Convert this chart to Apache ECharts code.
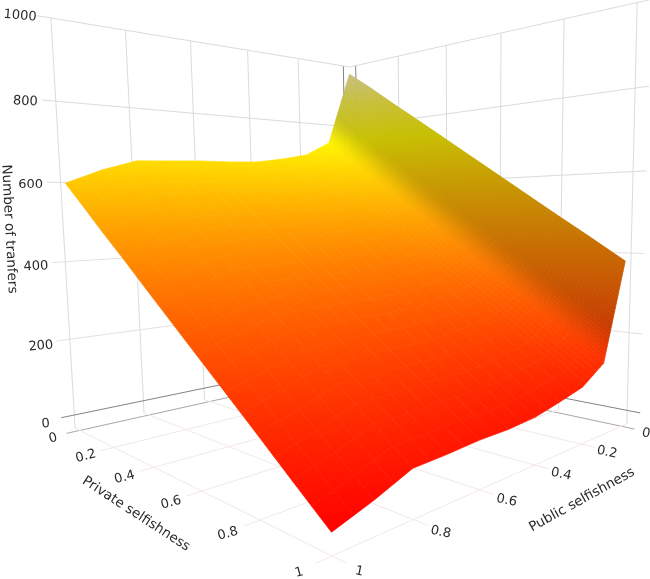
<!DOCTYPE html><html><head><meta charset="utf-8"><style>html,body{margin:0;background:#fff}#c{width:650px;height:579px}</style>
<script src="https://cdn.jsdelivr.net/npm/echarts@6/dist/echarts.min.js"></script></head><body><div id="c"></div><script>
var privateValues=[0,0.1,0.2,0.3,0.4,0.5,0.6,0.7,0.8,0.9,1];
var publicValues=[0,0.1,0.2,0.3,0.4,0.5,0.6,0.7,0.8,0.9,1];
var transfers0=[969,738,695,679,667,664,664,661,658,632,597];
var transfers1=[912,678,636,620,608,604,604,601,598,572,538];
var transfers2=[852,619,576,560,548,545,544,541,538,512,478];
var transfers3=[794,559,517,501,488,484,484,481,479,452,420];
var transfers4=[735,499,457,441,429,424,424,421,419,391,360];
var transfers5=[676,440,398,382,369,365,365,361,359,331,301];
var transfers6=[617,380,338,322,309,305,305,301,299,271,242];
var transfers7=[558,321,279,263,250,246,245,241,239,211,183];
var transfers8=[499,261,220,204,190,186,185,181,180,150,124];
var transfers9=[441,202,160,145,131,126,126,121,120,90,64];
var transfers10=[382,142,101,85,71,66,66,62,60,30,5];
var transfers=[transfers0,transfers1,transfers2,transfers3,transfers4,transfers5,transfers6,transfers7,transfers8,transfers9,transfers10];
var horizontalTicks=[0,0.2,0.4,0.6,0.8,1];
var horizontalTickLabels=['0','0.2','0.4','0.6','0.8','1'];
var zTicks=[0,200,400,600,800,1000];
var zTickLabels=['0','200','400','600','800','1000'];
var zTickTilt=[6,5,3,0,-3,-5];
var rangeMin=-0.03, zFloor=-35, zTop=1000;

// camera: solved from where the box's grid corners sit in the reference
var cal=[[-.03,1,1000,51,17],[-.03,1,600,60.5,183],[-.03,1,0,75,415.6],[1,-.03,1000,637,3],[1,-.03,600,634,173],[1,-.03,0,628,411],[-.03,0,1000,343,66],[0,-.03,1000,356,66],[1,1,-35,331,555],[-.03,.8,1000,126,30],[-.03,.6,1000,191,41],[-.03,.4,1000,247,50],[-.03,.2,1000,298,59],[.8,-.03,1000,563,18],[.6,-.03,1000,501,33],[.4,-.03,1000,447,45],[.2,-.03,1000,398,56],[-.03,.8,-35,144,413],[-.03,.6,-35,204,399],[.8,-.03,-35,558,407],[-.03,1,-35,75,429],[1,-.03,-35,627,425]];
var h=(function(){var A=[],b=[];cal.forEach(function(c){var X=c[0],Y=c[1],Z=c[2]/1000,u=c[3],v=c[4];
A.push([X,Y,Z,1,0,0,0,0,-u*X,-u*Y,-u*Z]);b.push(u);A.push([0,0,0,0,X,Y,Z,1,-v*X,-v*Y,-v*Z]);b.push(v);});
var n=11,M=[],i,j,k;for(i=0;i<n;i++){M[i]=[];for(j=0;j<n;j++){var s=0;A.forEach(function(r){s+=r[i]*r[j]});M[i][j]=s}s=0;A.forEach(function(r,q){s+=r[i]*b[q]});M[i][n]=s}
for(i=0;i<n;i++){var p=i;for(k=i+1;k<n;k++)if(Math.abs(M[k][i])>Math.abs(M[p][i]))p=k;var t=M[i];M[i]=M[p];M[p]=t;for(k=0;k<n;k++)if(k!=i){var f=M[k][i]/M[i][i];for(j=i;j<=n;j++)M[k][j]-=f*M[i][j]}}
var r=[];for(i=0;i<n;i++)r[i]=M[i][n]/M[i][i];return r})();
function project(X,Y,z){var Z=z/1000,w=h[8]*X+h[9]*Y+h[10]*Z+1;return[(h[0]*X+h[1]*Y+h[2]*Z+h[3])/w,(h[4]*X+h[5]*Y+h[6]*Z+h[7])/w]}

var stops=[[0,255,0,0],[300,255,100,0],[600,255,200,0],[740,255,245,0],[860,255,245,70],[1000,255,245,190]];
function scaleColor(z,sh){var i=0;while(i<stops.length-2&&z>stops[i+1][0])i++;var a=stops[i],b=stops[i+1],t=Math.max(0,Math.min(1,(z-a[0])/(b[0]-a[0])));
return 'rgb('+[1,2,3].map(function(k){return Math.round((a[k]+(b[k]-a[k])*t)*sh)}).join(',')+')'}
function shade(q){if(q>=.105)return 1;var t=Math.max(0,(q-.06)/.045);t=t*t*(3-2*t);return .78+.22*t}
// fill of one small quad: a screen-space gradient along the direction in which z changes
function quadFill(pts,sh){
 var cx=0,cy=0,cz=0,i;pts.forEach(function(p){cx+=p.xy[0]/4;cy+=p.xy[1]/4;cz+=p.z/4});
 var xx=0,xy=0,yy=0,xz=0,yz=0,zlo=1e9,zhi=-1e9;
 pts.forEach(function(p){var x=p.xy[0]-cx,y=p.xy[1]-cy,z=p.z-cz;xx+=x*x;xy+=x*y;yy+=y*y;xz+=x*z;yz+=y*z;zlo=Math.min(zlo,p.z);zhi=Math.max(zhi,p.z)});
 var det=xx*yy-xy*xy;if(Math.abs(det)<1e-6||zhi-zlo<.5)return scaleColor(cz,sh);
 var a=(xz*yy-yz*xy)/det,b=(yz*xx-xz*xy)/det,g2=a*a+b*b;if(g2<1e-9)return scaleColor(cz,sh);
 var lo=zlo-8,hi=zhi+8;
 var x0=cx+a*(lo-cz)/g2,y0=cy+b*(lo-cz)/g2,x1=cx+a*(hi-cz)/g2,y1=cy+b*(hi-cz)/g2,cs=[];
 for(i=0;i<=6;i++)cs.push({offset:i/6,color:scaleColor(lo+(hi-lo)*i/6,sh)});
 return new echarts.graphic.LinearGradient(x0,y0,x1,y1,cs,true);
}

var cells=[];for(var pi=0;pi<10;pi++)for(var qi=0;qi<10;qi++)cells.push([pi,qi]);
cells.sort(function(a,b){return (a[0]+a[1])-(b[0]+b[1])});

var lines=[];var gray='#dbdae0',pink='#f4e8e8',dark='#86808a',mid='#a9a6b0';
horizontalTicks.forEach(function(t){
 lines.push([rangeMin,t,zFloor,rangeMin,t,zTop,t===0?dark:gray]);
 lines.push([t,rangeMin,zFloor,t,rangeMin,zTop,t===0?dark:gray]);
 lines.push([t,rangeMin,zFloor,t,1.035,zFloor,t===0?mid:pink]);
 lines.push([rangeMin,t,zFloor,1.035,t,zFloor,t===0?mid:pink]);
});
zTicks.forEach(function(z){var c=z===0?dark:(z>=600?gray:'#e8dee0');
 lines.push([rangeMin,rangeMin,z,rangeMin,1.035,z,c]);
 lines.push([rangeMin,rangeMin,z,1.035,rangeMin,z,c]);
});

var labels=[];var fam='"DejaVu Sans"';
function addLabel(text,pos,dy,deg,size){labels.push([text,pos[0],pos[1]+dy,deg,size])}
horizontalTickLabels.forEach(function(s,i){var t=horizontalTicks[i];
 addLabel(s,project(t,1.07,zFloor),2,15,13);
 addLabel(s,project(1.065,t,zFloor),2,-12,13);
});
zTickLabels.forEach(function(s,i){addLabel(s,project(rangeMin,1.075,zTicks[i]),3,zTickTilt[i],13)});
addLabel('Number of tranfers',[9,229],0,-87,13.5);
addLabel('Private selfishness',[136,514],0,-33,13.5);
addLabel('Public selfishness',[582,500],0,29,13.5);

var chart=echarts.init(document.getElementById('c'),null,{renderer:'canvas'});
chart.setOption({animation:false,backgroundColor:'#fff',
 grid:{left:0,right:0,top:0,bottom:0},
 xAxis:{type:'value',min:0,max:650,show:false},
 yAxis:{type:'value',min:0,max:579,inverse:true,show:false},
 series:[
 {type:'custom',coordinateSystem:'cartesian2d',silent:true,clip:false,data:lines,encode:{x:0,y:1},renderItem:function(p,api){
  var d=lines[p.dataIndex],a=api.coord(project(d[0],d[1],d[2])),b=api.coord(project(d[3],d[4],d[5]));
  return {type:'line',shape:{x1:a[0],y1:a[1],x2:b[0],y2:b[1]},style:{stroke:d[6],lineWidth:1}};}},
 {type:'custom',coordinateSystem:'cartesian2d',silent:true,clip:false,data:cells,encode:{x:0,y:1},renderItem:function(p,api){
  var c=cells[p.dataIndex],pi=c[0],qi=c[1],ch=[];
  var z00=transfers[pi][qi],z01=transfers[pi][qi+1],z10=transfers[pi+1][qi],z11=transfers[pi+1][qi+1];
  var p0=privateValues[pi],p1=privateValues[pi+1],q0=publicValues[qi],q1=publicValues[qi+1];
  var nu=qi===0?1:2,nv=qi===0?30:(qi===1?6:2);
  function pt(u,v){var z=z00*(1-u)*(1-v)+z01*(1-u)*v+z10*u*(1-v)+z11*u*v;var P=p0+(p1-p0)*u,Q=q0+(q1-q0)*v;return{z:z,Q:Q,xy:api.coord(project(P,Q,z))}}
  for(var a=0;a<nu;a++)for(var b=0;b<nv;b++){
   var A=pt(a/nu,b/nv),B=pt((a+1)/nu,b/nv),C=pt((a+1)/nu,(b+1)/nv),D=pt(a/nu,(b+1)/nv),M=pt((a+.5)/nu,(b+.5)/nv);
   var col=quadFill([A,B,C,D],shade(M.Q));
   ch.push({type:'polygon',shape:{points:[A.xy,B.xy,C.xy,D.xy]},style:{fill:col,stroke:col,lineWidth:.7}});
  }
  return {type:'group',children:ch};}},
 {type:'custom',coordinateSystem:'cartesian2d',silent:true,clip:false,data:labels.map(function(l){return [l[1],l[2]]}),encode:{x:0,y:1},renderItem:function(p,api){
  var l=labels[p.dataIndex],a=api.coord([l[1],l[2]]);
  return {type:'text',x:a[0],y:a[1],rotation:l[3]*Math.PI/180,style:{text:l[0],fontFamily:fam,fontSize:l[4],fill:'#2a2a2a',align:'center',verticalAlign:'middle'}};}}
 ]});
</script></body></html>
